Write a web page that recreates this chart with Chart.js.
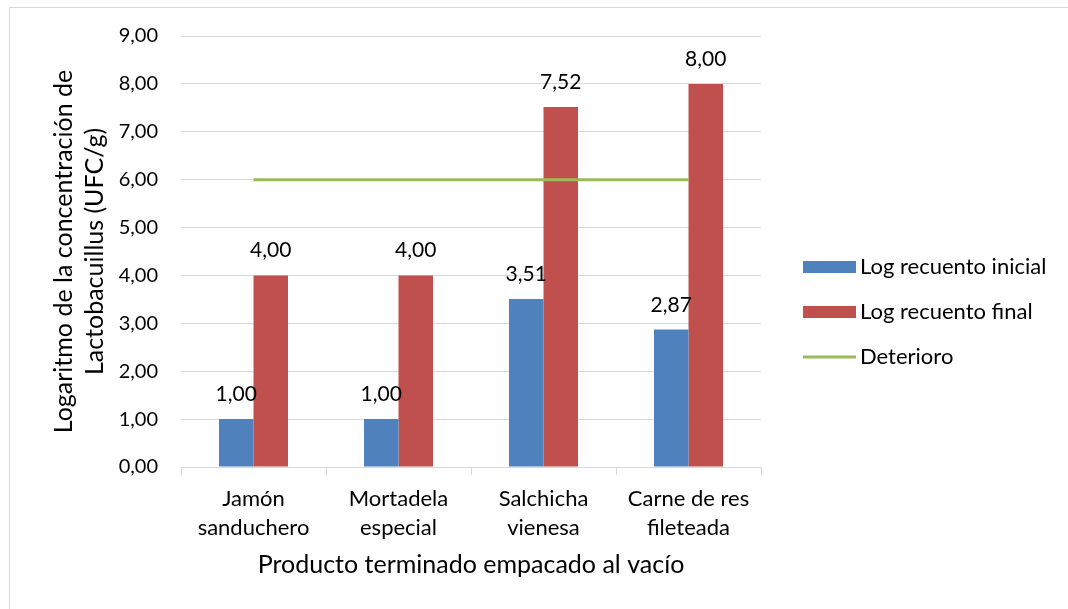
<!DOCTYPE html>
<html><head><meta charset="utf-8">
<script src="https://cdn.jsdelivr.net/npm/chart.js@4.4.0/dist/chart.umd.min.js"></script>
<style>html,body{margin:0;padding:0;background:#fff;} canvas{display:block;}</style>
</head><body>
<canvas id="c" width="1068" height="609"></canvas>
<script>
const categories = [["Jamón","sanduchero"],["Mortadela","especial"],["Salchicha","vienesa"],["Carne de res","fileteada"]];
const logInicial = [1.00, 1.00, 3.51, 2.87];
const logFinal = [4.00, 4.00, 7.52, 8.00];
const deterioro = [6.00, 6.00, 6.00, 6.00];
const yMin = 0, yMax = 9, yStep = 1;
const seriesNames = ["Log recuento inicial", "Log recuento final", "Deterioro"];
const yTitle = ["Logaritmo de la concentración de", "Lactobacuillus (UFC/g)"];
const xTitle = "Producto terminado empacado al vacío";

const FONT = "Lato, 'Open Sans', sans-serif";
const fmt = v => v.toFixed(2).replace('.', ',');

Chart.defaults.font.family = FONT;
Chart.defaults.color = '#000';

const bgBorder = {
  id: 'bgBorder',
  beforeDraw(chart) {
    const ctx = chart.ctx;
    ctx.save();
    ctx.fillStyle = '#fff';
    ctx.fillRect(0, 0, chart.width, chart.height);
    ctx.strokeStyle = '#D9D9D9';
    ctx.lineWidth = 1;
    ctx.strokeRect(9.5, 7.5, 1200, 800);
    ctx.restore();
  }
};

const dataLabels = {
  id: 'dataLabels',
  afterDatasetsDraw(chart) {
    const ctx = chart.ctx;
    ctx.save();
    ctx.font = "21px " + FONT;
    ctx.fillStyle = '#000';
    ctx.textAlign = 'center';
    ctx.textBaseline = 'alphabetic';
    chart.data.datasets.forEach((ds, i) => {
      if (ds.type === 'line') return;
      const meta = chart.getDatasetMeta(i);
      meta.data.forEach((el, j) => {
        ctx.fillText(fmt(ds.data[j]), el.x, el.y - 18);
      });
    });
    ctx.restore();
  }
};

const customLegend = {
  id: 'customLegend',
  afterDraw(chart) {
    const ctx = chart.ctx;
    ctx.save();
    ctx.font = "22px " + FONT;
    ctx.textBaseline = 'middle';
    const x0 = 803, w = 53, ys = [267, 312, 357];
    chart.data.datasets.forEach((ds, i) => {
      const y = ys[i];
      if (ds.type === 'line') {
        ctx.strokeStyle = ds.borderColor;
        ctx.lineWidth = 3;
        ctx.beginPath(); ctx.moveTo(x0, y); ctx.lineTo(x0 + w, y); ctx.stroke();
      } else {
        ctx.fillStyle = ds.backgroundColor;
        ctx.fillRect(x0, y - 6, w, 12);
      }
      ctx.fillStyle = '#000';
      ctx.textAlign = 'left';
      ctx.fillText(ds.label, 860, y);
    });
    ctx.restore();
  }
};

new Chart(document.getElementById('c'), {
  type: 'bar',
  data: {
    labels: categories,
    datasets: [
      { label: seriesNames[0], data: logInicial, backgroundColor: '#4F81BD', order: 1,
        categoryPercentage: 0.476, barPercentage: 1.0 },
      { label: seriesNames[1], data: logFinal, backgroundColor: '#C0504D', order: 1,
        categoryPercentage: 0.476, barPercentage: 1.0 },
      { type: 'line', label: seriesNames[2], data: deterioro, borderColor: '#9BBB59', backgroundColor: '#9BBB59',
        borderWidth: 3, pointRadius: 0, fill: false, order: 0, tension: 0 }
    ]
  },
  options: {
    responsive: false,
    animation: false,
    events: [],
    layout: { padding: { left: 48, right: 307, top: 36, bottom: 30 } },
    plugins: { legend: { display: false }, tooltip: { enabled: false } },
    scales: {
      x: {
        offset: true,
        grid: { display: true, drawOnChartArea: false, drawTicks: true, tickLength: 8, color: '#D9D9D9', offset: true },
        border: { display: true, color: '#D9D9D9', width: 1 },
        ticks: { font: { size: 22, lineHeight: 1.32 }, color: '#000', padding: 9, maxRotation: 0, autoSkip: false },
        title: { display: true, text: xTitle, font: { size: 25, lineHeight: 1.1 }, color: '#000', padding: 0 },
        afterFit(s) { s.height = 609 - 30 - 467; }
      },
      y: {
        min: yMin, max: yMax,
        grid: { color: '#D9D9D9', drawTicks: false, lineWidth: 1 },
        border: { display: false },
        ticks: { stepSize: yStep, callback: v => fmt(v), font: { size: 20 }, color: '#000', padding: 23 },
        title: { display: true, text: yTitle, font: { size: 25, lineHeight: 1.26 }, color: '#000', padding: 0 },
        afterFit(s) { s.width = 181 - 48; }
      }
    }
  },
  plugins: [bgBorder, dataLabels, customLegend]
});
</script>
</body></html>
